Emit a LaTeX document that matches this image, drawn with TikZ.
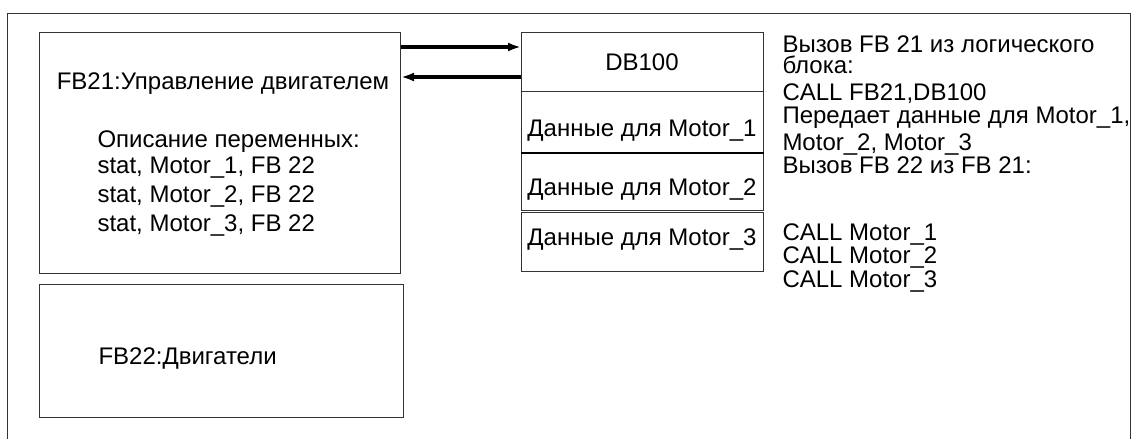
\documentclass[tikz,border=0pt]{standalone}
\usepackage{fontspec}
\setmainfont{Liberation Sans}
\usetikzlibrary{arrows.meta}

\begin{document}
\begin{tikzpicture}[>=Latex, x=0.5pt, y=-0.5pt, line width=0.5pt,
  box/.style={draw=black!80, anchor=north west, inner sep=0pt, minimum width=#1},
  txt/.style={font=\fontsize{12}{14}\selectfont, inner sep=0pt},
  call/.style={->, line width=1.6pt, -{Latex[length=6.5pt, width=4.5pt]}}]
  \useasboundingbox (0,0) rectangle (1136,439);
  % outer frame, open at the bottom
  \draw[black!80] (7,439) |- (1130,13) -- (1130,439);
  % function blocks
  \node[box=180.5pt, minimum height=120.5pt] (fb21) at (39,32) {};
  \node[box=182pt, minimum height=66.5pt] (fb22) at (39,284) {};
  \node[txt, anchor=base] (fb21t) at (223,90) {FB21:Управление двигателем};
  \node[txt, anchor=base west] (decl) at (97,147) {Описание переменных:};
  \foreach \y [count=\i] in {173,202,231}
    \node[txt, anchor=base west] (stat\i) at (97,\y) {stat, Motor\_\i, FB 22};
  \node[txt, anchor=base west] (fb22t) at (98,364) {FB22:Двигатели};
  % instance data block
  \node[box=121pt, minimum height=29.5pt] (db) at (521,32) {};
  \node[box=121pt, minimum height=30.5pt] (m1) at (521,91) {};
  \node[box=121pt, minimum height=29pt] (m2) at (521,152) {};
  \node[box=121pt, minimum height=29.5pt] (m3) at (521,212) {};
  \draw[line width=1pt] (m1.south west) -- (m1.south east);
  \node[txt, anchor=base] (dbt) at (642,70) {DB100};
  \foreach \y [count=\i] in {136,195,245}
    \node[txt, anchor=base] (m\i t) at (642,\y) {Данные для Motor\_\i};
  % calls
  \draw[call] ([yshift=-7.5pt]fb21.north east) -- ([yshift=-7.5pt]db.north west);
  \draw[call] ([yshift=-22.5pt]db.north west) -- ([yshift=-22.5pt]fb21.north east);
  % comments on the right
  \foreach \y/\t [count=\i] in {52/{Вызов FB 21 из логического}, 73/{блока:},
      100/{CALL FB21,DB100}, 123/{Передает данные для Motor\_1,},
      150/{Motor\_2, Motor\_3}, 173/{Вызов FB 22 из FB 21:},
      240/{CALL Motor\_1}, 263/{CALL Motor\_2}, 287/{CALL Motor\_3}}
    \node[txt, anchor=base west] (note\i) at (782,\y) {\t};
\end{tikzpicture}
\end{document}
